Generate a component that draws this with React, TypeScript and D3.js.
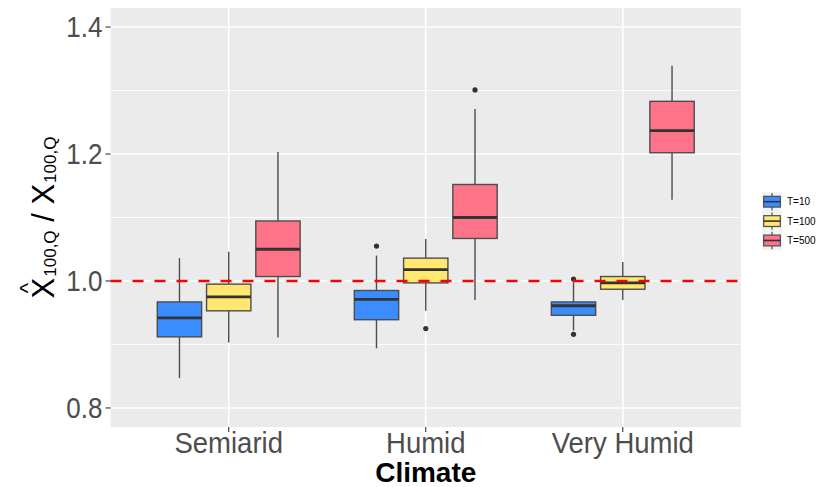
import React, { useEffect, useRef } from "react";
import * as d3 from "d3";

const categories = ["Semiarid", "Humid", "Very Humid"];
const seriesNames = ["T=10", "T=100", "T=500"];
const seriesColors = ["#3b8cff", "#ffe770", "#ff7389"];

const t10Low = [0.847, 0.894, 0.922];
const t10Q1 = [0.912, 0.939, 0.946];
const t10Med = [0.942, 0.971, 0.961];
const t10Q3 = [0.967, 0.985, 0.967];
const t10High = [1.036, 1.04, 0.998];
const t10Out = [[], [1.055], [0.916, 1.003]];

const t100Low = [0.903, 0.953, 0.97];
const t100Q1 = [0.953, 0.997, 0.987];
const t100Med = [0.975, 1.018, 0.997];
const t100Q3 = [0.995, 1.036, 1.007];
const t100High = [1.046, 1.066, 1.03];
const t100Out = [[], [0.925], []];

const t500Low = [0.911, 0.97, 1.128];
const t500Q1 = [1.007, 1.067, 1.202];
const t500Med = [1.05, 1.1, 1.237];
const t500Q3 = [1.0945, 1.152, 1.283];
const t500High = [1.203, 1.271, 1.339];
const t500Out = [[], [1.301], []];

const yMajor = [0.8, 1.0, 1.2, 1.4];
const yMinor = [0.9, 1.1, 1.3];
const refValue = 1.0;

const seriesStats = [
  { low: t10Low, q1: t10Q1, med: t10Med, q3: t10Q3, high: t10High, out: t10Out },
  { low: t100Low, q1: t100Q1, med: t100Med, q3: t100Q3, high: t100High, out: t100Out },
  { low: t500Low, q1: t500Q1, med: t500Med, q3: t500Q3, high: t500High, out: t500Out },
];

export default function App() {
  const ref = useRef<SVGSVGElement>(null);
  useEffect(() => {
    const svg = d3.select(ref.current);
    svg.selectAll("*").remove();
    const W = 816, H = 487;
    const panel = { l: 110.5, r: 741, t: 8, b: 427 };
    const font = "'Liberation Sans', Arial, sans-serif";

    const y = d3.scaleLinear().domain([0.77, 1.43]).range([panel.b, panel.t]);
    const xCat = d3.scalePoint<string>().domain(categories).range([panel.l, panel.r]).padding(0.6);
    const xDodge = d3.scaleBand<string>().domain(seriesNames).range([-0.375, 0.375]);
    const step = xCat.step();

    svg.append("rect").attr("x", 0).attr("y", 0).attr("width", W).attr("height", H).attr("fill", "white");
    svg.append("rect").attr("x", panel.l).attr("y", panel.t).attr("width", panel.r - panel.l).attr("height", panel.b - panel.t).attr("fill", "#ebebeb");

    const g = svg.append("g");
    yMinor.forEach((v) => {
      g.append("line").attr("x1", panel.l).attr("x2", panel.r).attr("y1", y(v)).attr("y2", y(v)).attr("stroke", "white").attr("stroke-width", 0.8);
    });
    yMajor.forEach((v) => {
      g.append("line").attr("x1", panel.l).attr("x2", panel.r).attr("y1", y(v)).attr("y2", y(v)).attr("stroke", "white").attr("stroke-width", 1.6);
    });
    categories.forEach((c) => {
      const cx = xCat(c)!;
      g.append("line").attr("x1", cx).attr("x2", cx).attr("y1", panel.t).attr("y2", panel.b).attr("stroke", "white").attr("stroke-width", 1.6);
    });

    const bw = xDodge.bandwidth() * step * 0.9;
    seriesStats.forEach((s, si) => {
      categories.forEach((c, ci) => {
        const cx = xCat(c)! + (xDodge(seriesNames[si])! + xDodge.bandwidth() / 2) * step;
        const bg = g.append("g");
        bg.append("line").attr("x1", cx).attr("x2", cx).attr("y1", y(s.high[ci])).attr("y2", y(s.q3[ci])).attr("stroke", "#4d4d4d").attr("stroke-width", 1.4);
        bg.append("line").attr("x1", cx).attr("x2", cx).attr("y1", y(s.q1[ci])).attr("y2", y(s.low[ci])).attr("stroke", "#4d4d4d").attr("stroke-width", 1.4);
        bg.append("rect").attr("x", cx - bw / 2).attr("width", bw).attr("y", y(s.q3[ci])).attr("height", y(s.q1[ci]) - y(s.q3[ci]))
          .attr("fill", seriesColors[si]).attr("stroke", "#4d4d4d").attr("stroke-width", 1.4);
        bg.append("line").attr("x1", cx - bw / 2).attr("x2", cx + bw / 2).attr("y1", y(s.med[ci])).attr("y2", y(s.med[ci])).attr("stroke", "#333333").attr("stroke-width", 2.8);
        s.out[ci].forEach((o: number) => {
          bg.append("circle").attr("cx", cx).attr("cy", y(o)).attr("r", 2.6).attr("fill", "#333333");
        });
      });
    });

    g.append("line").attr("x1", panel.l).attr("x2", panel.r).attr("y1", y(refValue)).attr("y2", y(refValue))
      .attr("stroke", "#ff0000").attr("stroke-width", 2.6).attr("stroke-dasharray", "11 11");

    const stretchedText = (x: number, yy: number, s: number) =>
      svg.append("text").attr("transform", `translate(${x},${yy}) scale(1,${s})`).attr("font-family", font);

    // axes ticks
    yMajor.forEach((v) => {
      svg.append("line").attr("x1", panel.l - 5).attr("x2", panel.l).attr("y1", y(v)).attr("y2", y(v)).attr("stroke", "#333333").attr("stroke-width", 1.1);
      stretchedText(panel.l - 8, y(v), 1.1).attr("dy", "0.36em").attr("text-anchor", "end")
        .attr("font-size", 26).attr("fill", "#4d4d4d").text(v.toFixed(1));
    });
    categories.forEach((c) => {
      const cx = xCat(c)!;
      svg.append("line").attr("x1", cx).attr("x2", cx).attr("y1", panel.b).attr("y2", panel.b + 5).attr("stroke", "#333333").attr("stroke-width", 1.1);
      stretchedText(cx, 452.5, 1.08).attr("text-anchor", "middle")
        .attr("font-size", 27.5).attr("fill", "#4d4d4d").text(c);
    });
    stretchedText((panel.l + panel.r) / 2, 482, 1.0).attr("text-anchor", "middle")
      .attr("font-size", 28).attr("font-weight", "bold").attr("fill", "black").text("Climate");

    // y title
    const yt = svg.append("g").attr("transform", `translate(54, ${(panel.t + panel.b) / 2}) rotate(-90)`);
    const tt = yt.append("text").attr("font-family", font).attr("font-size", 31).attr("fill", "black");
    tt.append("tspan").attr("class", "x1").text("X");
    tt.append("tspan").attr("font-size", 17).attr("dy", 2).attr("dx", 1).text("100,Q");
    tt.append("tspan").attr("dy", -2).text(" / X");
    tt.append("tspan").attr("font-size", 17).attr("dy", 2).attr("dx", 1).text("100,Q");
    const tw = (tt.node() as SVGTextElement).getComputedTextLength() + 2;
    tt.attr("x", -tw / 2);
    const xw = (tt.select("tspan.x1").node() as SVGTextContentElement).getComputedTextLength();
    yt.append("text").attr("x", -tw / 2 + xw / 2).attr("y", -19).attr("text-anchor", "middle")
      .attr("font-family", font).attr("font-size", 22).attr("fill", "black").text("^");

    // legend
    const lg = svg.append("g").attr("transform", "translate(762, 192)");
    const keyW = 20, keyH = 19.4;
    seriesNames.forEach((n, i) => {
      const k = lg.append("g").attr("transform", `translate(0, ${i * keyH})`);
      k.append("rect").attr("width", keyW).attr("height", keyH).attr("fill", "#f2f2f2");
      const kx = keyW / 2;
      k.append("line").attr("x1", kx).attr("x2", kx).attr("y1", 1).attr("y2", keyH - 1).attr("stroke", "#4d4d4d").attr("stroke-width", 1.2);
      k.append("rect").attr("x", 1.7).attr("y", 4.3).attr("width", keyW - 3.4).attr("height", keyH - 8.6).attr("fill", seriesColors[i]).attr("stroke", "#4d4d4d").attr("stroke-width", 1.2);
      k.append("line").attr("x1", 1.7).attr("x2", keyW - 1.7).attr("y1", keyH / 2).attr("y2", keyH / 2).attr("stroke", "#333333").attr("stroke-width", 1.6);
      k.append("text").attr("x", keyW + 5).attr("y", keyH / 2).attr("dy", "0.35em")
        .attr("font-family", font).attr("font-size", 10).attr("fill", "black").text(n);
    });
  }, []);
  return (
    <svg ref={ref} width={816} height={487} style={{ position: "absolute", left: 0, top: 0, display: "block" }} />
  );
}
